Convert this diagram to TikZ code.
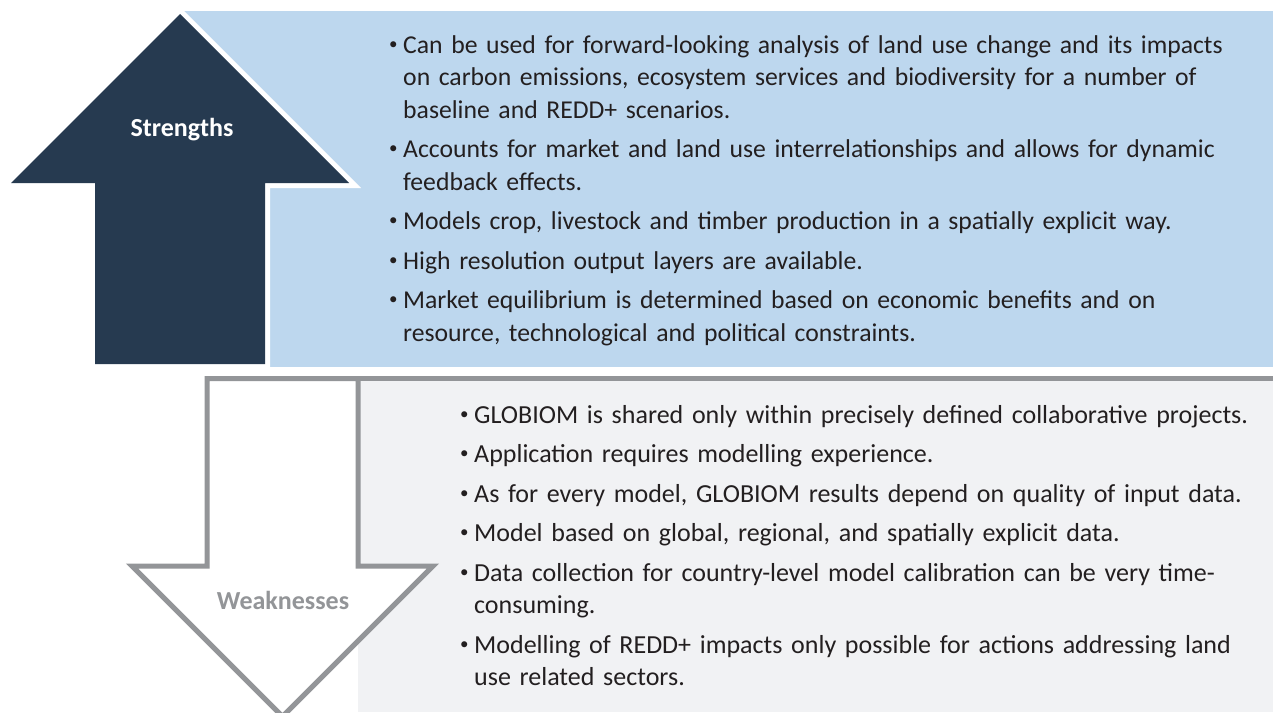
\documentclass[tikz,border=0pt]{standalone}
\usepackage{fontspec}
\setmainfont{Carlito}
\usepackage{xcolor}
\usepackage{tikz}
\usetikzlibrary{positioning,calc}

\definecolor{navy}{HTML}{263A50}
\definecolor{paleblue}{HTML}{BDD7EE}
\definecolor{palegray}{HTML}{F1F2F4}
\definecolor{edgegray}{HTML}{939598}
\definecolor{inkdark}{HTML}{231F20}

\newcommand{\ptmark}{\parskip=7pt\hangindent=14pt\hangafter=1\noindent\makebox[14pt][l]{\raisebox{4pt}{\fontsize{17}{17}\selectfont\textbullet}}}
\newcommand{\ptstart}{\ptmark}
\newcommand{\ptitem}{\par\ptmark}

\begin{document}
\begin{tikzpicture}[
    x=1pt, y=-1pt,
    uparr/.style={fill=navy, preaction={draw=white, line width=10pt, line join=miter}},
    downarr/.style={fill=white, draw=edgegray, line width=5pt, line join=miter},
    lbl/.style={font=\bfseries\fontsize{26}{30}\selectfont, inner sep=0pt},
    pts/.style={anchor=base west, inner sep=0pt, text width=880pt, align=left, text=inkdark, font=\fontsize{25.7}{32.5}\selectfont}
]
    \clip (0,0) rectangle (1273,712);

    % strengths panel
    \fill [paleblue] (180,11) rectangle (1273,367);
    \path [uparr] (180,14) -- (349,183) -- (265,183) -- (265,364) -- (95,364) -- (95,183) -- (11,183) -- cycle;
    \node [lbl, text=white] (strlbl) at (182,130) {Strengths};

    % weaknesses panel
    \fill [palegray] (358,378.5) rectangle (1273,712);
    \draw [edgegray, line width=5pt] (205,378.5) -- (1273,378.5);
    \path [downarr] (207,378.5) -- (358,378.5) -- (358,566) -- (433,566) -- (282.5,716.5) -- (132,566) -- (207,566) -- cycle;
    \node [lbl, text=edgegray] (weaklbl) at (283,600) {Weaknesses};

    \node [pts] (strpts) at (389,53) {%
        \ptstart Can be used for forward-looking analysis of land use change and its impacts\newline on carbon emissions, ecosystem services and biodiversity for a number of\newline baseline and REDD+ scenarios.
        \ptitem Accounts for market and land use interrelationships and allows for dynamic\newline feedback effects.
        \ptitem Models crop, livestock and timber production in a spatially explicit way.
        \ptitem High resolution output layers are available.
        \ptitem Market equilibrium is determined based on economic benefits and on\newline resource, technological and political constraints.\par};

    \node [pts, font=\fontsize{26}{32.5}\selectfont] (weakpts) at (460,423) {%
        \ptstart GLOBIOM is shared only within precisely defined collaborative projects.
        \ptitem Application requires modelling experience.
        \ptitem As for every model, GLOBIOM results depend on quality of input data.
        \ptitem Model based on global, regional, and spatially explicit data.
        \ptitem Data collection for country-level model calibration can be very time-\newline consuming.
        \ptitem Modelling of REDD+ impacts only possible for actions addressing land\newline use related sectors.\par};
\end{tikzpicture}
\end{document}
